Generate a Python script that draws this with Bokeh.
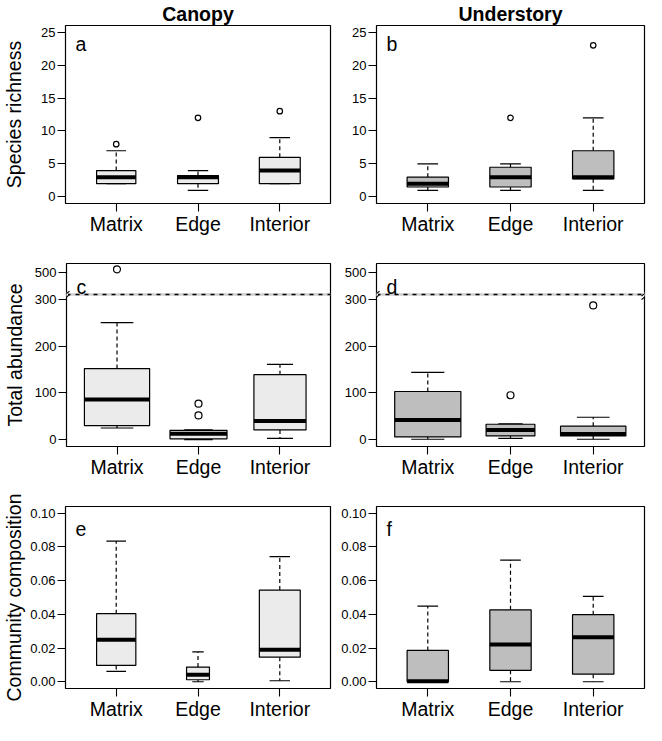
import math
from bokeh.plotting import figure
from bokeh.layouts import column, row
from bokeh.models import Range1d, FixedTicker, Label, Arrow, Span, BoxAnnotation
from bokeh.embed import file_html
from bokeh.resources import INLINE

FONT = "Liberation Sans"

categories = ["Matrix", "Edge", "Interior"]
habitats = ["Canopy", "Understory"]
panel_letters = ["a", "b", "c", "d", "e", "f"]
y_titles = ["Species richness", "Total abundance", "Community composition"]

# ---- (a) canopy species richness
rich_can_low = [2, 1, 2]
rich_can_q1 = [2, 2, 2]
rich_can_med = [3, 3, 4]
rich_can_q3 = [4, 3.25, 6]
rich_can_high = [7, 4, 9]
rich_can_out_cat = ["Matrix", "Edge", "Interior"]
rich_can_out_val = [8, 12, 13]

# ---- (b) understory species richness
rich_und_low = [1, 1, 1]
rich_und_q1 = [1.5, 1.5, 2.75]
rich_und_med = [2, 3, 3]
rich_und_q3 = [3, 4.5, 7]
rich_und_high = [5, 5, 12]
rich_und_out_cat = ["Edge", "Interior"]
rich_und_out_val = [12, 23]

# ---- (c) canopy total abundance
abund_can_low = [25, 0, 3]
abund_can_q1 = [30, 2, 21]
abund_can_med = [86, 13, 40]
abund_can_q3 = [152, 20, 139]
abund_can_high = [250, 21, 161]
abund_can_out_cat = ["Matrix", "Edge", "Edge"]
abund_can_out_val = [506, 52, 77]

# ---- (d) understory total abundance
abund_und_low = [1, 3, 1]
abund_und_q1 = [6, 8, 8]
abund_und_med = [42, 21, 12]
abund_und_q3 = [103, 33, 29]
abund_und_high = [144, 34, 48]
abund_und_out_cat = ["Edge", "Interior"]
abund_und_out_val = [95, 287]

# ---- (e) canopy community composition
comp_can_low = [0.0062, 0.0, 0.0006]
comp_can_q1 = [0.0097, 0.0012, 0.0146]
comp_can_med = [0.0249, 0.0041, 0.0190]
comp_can_q3 = [0.0404, 0.0087, 0.0544]
comp_can_high = [0.0835, 0.0177, 0.0742]

# ---- (f) understory community composition
comp_und_low = [0.0, 0.0, 0.0]
comp_und_q1 = [0.0, 0.0068, 0.0045]
comp_und_med = [0.0003, 0.0221, 0.0264]
comp_und_q3 = [0.0186, 0.0427, 0.0398]
comp_und_high = [0.0449, 0.0722, 0.0507]

# relative box widths (varwidth-like)
width_a = [0.48, 0.5, 0.5]
width_b = [0.5, 0.5, 0.5]
width_c = [0.8, 0.7, 0.64]
width_d = [0.8, 0.59, 0.79]
width_e = [0.48, 0.28, 0.5]
width_f = [0.5, 0.5, 0.5]

rich_ticks = [0, 5, 10, 15, 20, 25]
abund_ticks = [0, 100, 200, 300, 500]
comp_ticks = [0.0, 0.02, 0.04, 0.06, 0.08, 0.10]
comp_tick_labels = ["0.00", "0.02", "0.04", "0.06", "0.08", "0.10"]

ABUND_BREAK = 310   # where the axis is broken
ABUND_GAP = 142     # amount of axis removed above the break


def abund_tr(v):
    return v - ABUND_GAP if v > ABUND_BREAK else v


fills = ["#EBEBEB", "#BEBEBE"]

COL_W = [334, 312]
COL_BL = [62, 42]
COL_BR = [4, 2]
ROW_H = [251, 243, 228]
ROW_BT = [20, 12, 12]
ROW_BB = [48, 48, 33]
X_RANGE = (0.38, 3.62)
TICK_PX = 13


def text_w(s):
    # approximate Arial/Liberation Sans advance widths at TICK_PX
    return sum((0.278 if ch == "." else 0.556) for ch in s) * TICK_PX


def make_panel(col, rowi, low, q1, med, q3, high, widths, ylim, ticks, tick_labels,
               out_cat=(), out_val=(), tr=lambda v: v, out_size=5.5, brk=None):
    W, H = COL_W[col], ROW_H[rowi]
    fw = W - COL_BL[col] - COL_BR[col]
    fh = H - ROW_BT[rowi] - ROW_BB[rowi]
    p = figure(width=W, height=H, output_backend="svg", toolbar_location=None, tools="",
               min_border_left=COL_BL[col], min_border_right=COL_BR[col],
               min_border_top=ROW_BT[rowi], min_border_bottom=ROW_BB[rowi],
               x_range=Range1d(*X_RANGE), y_range=Range1d(*ylim))
    p.grid.visible = False
    p.outline_line_color = "black"
    p.outline_line_width = 1.2
    p.outline_line_alpha = 1.0
    p.background_fill_color = "white"
    p.border_fill_color = "white"

    if rowi == 0:
        p.title.text = habitats[col]
        p.title.text_font = FONT
        p.title.text_font_size = "19.5px"
        p.title.text_font_style = "bold"
        p.title.text_color = "black"
        p.title.align = "center"
        p.title.standoff = 1
        p.title.offset = 0

    xs = [i + 1 for i in range(len(categories))]
    p.xaxis.ticker = FixedTicker(ticks=xs)
    p.xaxis.major_label_overrides = {x: c for x, c in zip(xs, categories)}
    p.xaxis.major_label_text_font_size = "19.5px"
    p.xaxis.major_label_standoff = 1
    ytk = [tr(t) for t in ticks]
    p.yaxis.ticker = FixedTicker(ticks=ytk)
    p.yaxis.major_label_overrides = {t: l for t, l in zip(ytk, tick_labels)}
    p.yaxis.major_label_text_font_size = "%dpx" % TICK_PX
    p.yaxis.major_label_standoff = 2
    for ax in (p.xaxis[0], p.yaxis[0]):
        ax.major_label_text_font = FONT
        ax.major_label_text_color = "black"
        ax.axis_line_color = None
        ax.major_tick_out = 8
        ax.major_tick_in = 0
        ax.major_tick_line_color = "black"
        ax.major_tick_line_width = 1.1
        ax.minor_tick_line_color = None
    if col == 0:
        yax = p.yaxis[0]
        yax.axis_label = y_titles[rowi]
        yax.axis_label_text_font = FONT
        yax.axis_label_text_font_size = "19.5px"
        yax.axis_label_text_font_style = "normal"
        yax.axis_label_text_color = "black"
        widest = max(text_w(t) for t in comp_tick_labels)
        yax.axis_label_standoff = int(round(2 + widest - max(text_w(t) for t in tick_labels)))

    q1t = [tr(v) for v in q1]
    q3t = [tr(v) for v in q3]
    medt = [tr(v) for v in med]
    lowt = [tr(v) for v in low]
    hight = [tr(v) for v in high]
    half = [w / 2 for w in widths]
    quarter = [w / 4 for w in widths]

    # whiskers
    p.segment(x0=xs, x1=xs, y0=q3t, y1=hight, line_color="black", line_width=1.2, line_dash="4 3")
    p.segment(x0=xs, x1=xs, y0=q1t, y1=lowt, line_color="black", line_width=1.2, line_dash="4 3")
    # caps
    p.segment(x0=[x - q for x, q in zip(xs, quarter)], x1=[x + q for x, q in zip(xs, quarter)],
              y0=hight, y1=hight, line_color="black", line_width=1.2)
    p.segment(x0=[x - q for x, q in zip(xs, quarter)], x1=[x + q for x, q in zip(xs, quarter)],
              y0=lowt, y1=lowt, line_color="black", line_width=1.2)
    # boxes
    p.vbar(x=xs, width=widths, bottom=q1t, top=q3t, fill_color=fills[col],
           line_color="black", line_width=1.2)
    # medians
    p.segment(x0=[x - h for x, h in zip(xs, half)], x1=[x + h for x, h in zip(xs, half)],
              y0=medt, y1=medt, line_color="black", line_width=4, line_cap="butt")
    # outliers
    if len(out_val):
        p.scatter(x=[categories.index(c) + 1 for c in out_cat], y=[tr(v) for v in out_val],
                  marker="circle", size=out_size, fill_color=None, line_color="black",
                  line_width=1.2)

    # broken axis decoration
    if brk is not None:
        p.add_layout(Span(location=brk, dimension="width", line_color="#cfcfcf", line_width=2.5))
        p.add_layout(Span(location=brk, dimension="width", line_color="black",
                          line_width=1.5, line_dash="4 5"))
        yb = (brk - ylim[0]) / (ylim[1] - ylim[0]) * fh
        for sx in (0, fw):
            p.add_layout(BoxAnnotation(left=sx - 1.5, right=sx + 1.5, bottom=yb - 2, top=yb + 2,
                                       left_units="screen", right_units="screen",
                                       bottom_units="screen", top_units="screen",
                                       fill_color="white", fill_alpha=1.0, line_color=None))
            for dy in (-3.5, 0.0):
                p.add_layout(Arrow(end=None, x_start=sx - 3, y_start=yb + dy - 1.5,
                                   x_end=sx + 3, y_end=yb + dy + 3.5,
                                   start_units="screen", end_units="screen",
                                   line_color="black", line_width=1.1))

    # panel letter
    p.add_layout(Label(x=10, y=fh - 23, x_units="screen", y_units="screen",
                       text=panel_letters[rowi * 2 + col], text_font=FONT, text_color="black",
                       text_font_size="19.5px", text_baseline="alphabetic", text_align="left"))
    return p


abund_lim = (-14.5, 376.5)
pa = make_panel(0, 0, rich_can_low, rich_can_q1, rich_can_med, rich_can_q3, rich_can_high,
                width_a, (-1, 26), rich_ticks, [str(t) for t in rich_ticks],
                rich_can_out_cat, rich_can_out_val)
pb = make_panel(1, 0, rich_und_low, rich_und_q1, rich_und_med, rich_und_q3, rich_und_high,
                width_b, (-1, 26), rich_ticks, [str(t) for t in rich_ticks],
                rich_und_out_cat, rich_und_out_val)
pc = make_panel(0, 1, abund_can_low, abund_can_q1, abund_can_med, abund_can_q3, abund_can_high,
                width_c, abund_lim, abund_ticks, [str(t) for t in abund_ticks],
                abund_can_out_cat, abund_can_out_val, tr=abund_tr, out_size=7, brk=ABUND_BREAK)
pd_ = make_panel(1, 1, abund_und_low, abund_und_q1, abund_und_med, abund_und_q3, abund_und_high,
                 width_d, abund_lim, abund_ticks, [str(t) for t in abund_ticks],
                 abund_und_out_cat, abund_und_out_val, tr=abund_tr, out_size=7, brk=ABUND_BREAK)
pe = make_panel(0, 2, comp_can_low, comp_can_q1, comp_can_med, comp_can_q3, comp_can_high,
                width_e, (-0.004, 0.104), comp_ticks, comp_tick_labels)
pf = make_panel(1, 2, comp_und_low, comp_und_q1, comp_und_med, comp_und_q3, comp_und_high,
                width_f, (-0.004, 0.104), comp_ticks, comp_tick_labels)

layout = column(row(pa, pb), row(pc, pd_), row(pe, pf))
open("out.html", "w").write(file_html(layout, INLINE))
